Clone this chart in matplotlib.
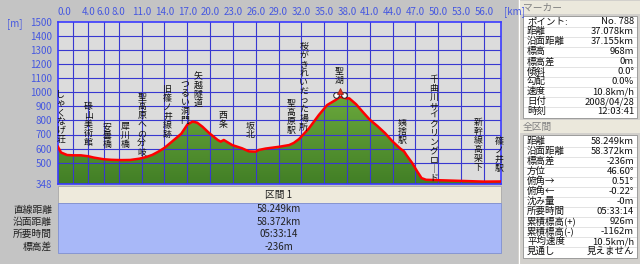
import numpy as np
import matplotlib
matplotlib.use('Agg')
import matplotlib.pyplot as plt
import matplotlib.transforms as mtransforms
from matplotlib.patches import Rectangle, Polygon
from matplotlib.colors import LinearSegmentedColormap

plt.rcParams['font.family'] = ['Noto Sans CJK JP', 'DejaVu Sans']

# elevation profile
dist_km = [0.0, 0.4, 1.2, 2.0, 3.0, 4.0, 4.7, 6.0, 7.0, 8.3, 9.5, 10.7, 11.6, 12.4,
           13.2, 14.0, 15.0, 16.2, 17.0, 17.7, 18.3, 19.0, 19.9, 21.0, 21.4, 21.8,
           22.9, 24.2, 25.1, 26.0, 26.4, 27.3, 29.1, 30.4, 31.0, 31.7, 33.0, 34.3,
           35.4, 36.5, 37.1, 37.9, 38.3, 39.2, 40.0, 41.0, 42.0, 43.0, 44.0, 45.0,
           45.5, 45.8, 46.6, 47.2, 47.8, 48.4, 50.0, 53.0, 56.0, 58.249]
elev_m = [612, 572, 554, 552, 552, 545, 536, 524, 520, 518, 519, 528, 540, 555,
          578, 605, 650, 705, 770, 792, 784, 755, 709, 661, 649, 661,
          625, 602, 580, 578, 590, 600, 613, 625, 640, 668, 744, 839,
          910, 945, 968, 957, 957, 915, 865, 805, 760, 710, 650, 600,
          580, 555, 495, 440, 390, 378, 375, 370, 365, 366]

total_km = 58.249
elev_min, elev_max = 348, 1500

x_ticks = [0, 2, 4, 6, 8, 11, 14, 17, 20, 23, 26, 29, 32, 35, 38, 41, 44, 47, 50, 53, 56]
x_tick_labels = ['0.0', ''] + ['%.1f' % t for t in x_ticks[2:]]
y_ticks = [348, 500, 600, 700, 800, 900, 1000, 1100, 1200, 1300, 1400, 1500]

# waypoints: name, distance, top of the vertical label (m)
waypoint_names = ['しゃくなげ荘', '碌山美術館', '安曇橋', '犀川橋', '聖高原への分岐',
                  '旧篠ノ井線跡', 'つるい洞門', '矢越隧道', '西条', '坂北', '聖高原駅',
                  '桜がきれいだった場所', '聖湖', '姨捨駅', '千曲川サイクリングロード',
                  '新幹線高架下', '篠ノ井駅']
waypoint_km = [0.36, 4.0, 6.5, 8.8, 11.0, 14.4, 16.7, 18.4, 21.7, 25.2, 30.6,
               32.3, 36.9, 45.2, 49.4, 55.2, 58.0]
label_top = [1016, 931, 789, 789, 995, 1052, 1088, 1144, 867, 796, 952,
             1358, 1180, 817, 1123, 817, 682]

marker_km = 37.078
marker_elev = 968

summary_labels = ['直線距離', '沿面距離', '所要時間', '標高差']
summary_values = ['58.249km', '58.372km', '05:33:14', '-236m']

marker_labels = ['ポイント:', '距離', '沿面距離', '標高', '標高差', '傾斜', '勾配', '速度', '日付', '時刻']
marker_values = ['No. 788', '37.078km', '37.155km', '968m', '0m', '0.0°', '0.0%',
                 '10.8km/h', '2008/04/28', '12:03:41']
total_labels = ['距離', '沿面距離', '標高差', '方位', '俯角→', '俯角←', '沈み量', '所要時間',
                '累積標高(+)', '累積標高(-)', '平均速度', '見通し']
total_values = ['58.249km', '58.372km', '-236m', '46.60°', '0.51°', '-0.22°', '-0m',
                '05:33:14', '926m', '-1162m', '10.5km/h', '見えません']

W, H = 640, 264
fig = plt.figure(figsize=(6.4, 2.64), dpi=100, facecolor='#c4c4c4')


def box(x0, y0, x1, y1):
    return [x0 / W, 1 - y1 / H, (x1 - x0) / W, (y1 - y0) / H]


def rect(x0, y0, x1, y1, fc, ec='none', lw=0.6):
    fig.patches.append(Rectangle((x0 / W, 1 - y1 / H), (x1 - x0) / W, (y1 - y0) / H,
                                 transform=fig.transFigure, facecolor=fc,
                                 edgecolor=ec, linewidth=lw))


def ftext(x, y, s, **kw):
    fig.text(x / W, 1 - y / H, s, **kw)


blue_txt = '#4658e0'

# --- profile chart
ax = fig.add_axes(box(58, 22, 501, 184))
ax.set_facecolor('#dcdcdc')

grad = np.linspace(0, 1, 256).reshape(-1, 1)
greens = LinearSegmentedColormap.from_list('greens', ['#427f26', '#6aa83c'])
im = ax.imshow(grad, extent=[0, total_km, elev_min, max(elev_m)], origin='lower',
               aspect='auto', cmap=greens, zorder=1)
verts = [(0, elev_min)] + list(zip(dist_km, elev_m)) + [(total_km, elev_min)]
ground = Polygon(verts, closed=True, facecolor='none', edgecolor='none')
ax.add_patch(ground)
im.set_clip_path(ground)

for t in x_ticks[1:]:
    ax.axvline(t, color='#3838d0', lw=0.8, zorder=2)
for t in y_ticks[1:-1]:
    ax.axhline(t, color='#3838d0', lw=0.8, zorder=2)

ax.plot(dist_km, elev_m, color='#ff0000', lw=1.8, zorder=3)

ax.set_xlim(0, total_km)
ax.set_ylim(elev_min, elev_max)
for sp in ax.spines.values():
    sp.set_color('#3a3aff')
    sp.set_linewidth(1.2)

ax.xaxis.tick_top()
ax.set_xticks(x_ticks)
ax.set_xticklabels(x_tick_labels)
ax.get_xticklabels()[0].set_horizontalalignment('left')
ax.set_yticks(y_ticks)
ax.tick_params(length=0, labelsize=7, labelcolor=blue_txt)
ax.tick_params(axis='x', pad=3.5)
ax.tick_params(axis='y', pad=4.5)

ftext(7, 24, '[m]', fontsize=7, color=blue_txt, va='center')
ftext(504, 12, '[km]', fontsize=7, color=blue_txt, va='center')

for name, km, top in zip(waypoint_names, waypoint_km, label_top):
    vert = '\n'.join(name.replace('ー', '｜'))
    ax.text(km, top, vert, ha='center', va='top', fontsize=6.4, linespacing=1.0,
            color='#101010', zorder=5, clip_on=False)

# bicycle icon at the current marker
px = 72 / fig.dpi
for dx in (-4, 4):
    tr = mtransforms.offset_copy(ax.transData, fig=fig, x=dx * px, y=2 * px, units='points')
    ax.plot([marker_km], [marker_elev], 'o', ms=4, mfc='white', mec='#202020',
            mew=0.7, transform=tr, zorder=6, clip_on=False)
tr = mtransforms.offset_copy(ax.transData, fig=fig, x=0, y=6 * px, units='points')
ax.plot([marker_km], [marker_elev], '^', ms=5, mfc='#e03020', mec='#a02010',
        mew=0.5, transform=tr, zorder=7, clip_on=False)

# --- section summary below the chart
rect(58, 186, 501, 203, '#eeeadc', '#a8a8a8')
ftext(279, 195, '区間 1', fontsize=7, ha='center', va='center', color='#202020')
rect(58, 203, 501, 253, '#a8b8f8', '#8090d0')
for i, (lab, val) in enumerate(zip(summary_labels, summary_values)):
    y = 209.5 + i * 12.4
    ftext(52, y, lab, fontsize=7, ha='right', va='center', color='#202020')
    ftext(279, y, val, fontsize=7, ha='center', va='center', color='#202020')

# --- right information panel
rect(518, 0, 640, 264, '#d2d0cc')
fig.lines.append(plt.Line2D([519 / W, 519 / W], [0, 1], transform=fig.transFigure,
                            color='white', lw=0.8))


def info_table(title, y_head, labels, values, y_first, pitch):
    rect(520, y_head, 640, y_head + 13, '#ebe8dc')
    ftext(523, y_head + 6.5, title, fontsize=7, color='#808080', va='center')
    top = y_head + 15
    bottom = y_first + pitch * (len(labels) - 1) + pitch / 2 + 1
    rect(523, top, 637, bottom, 'white', '#909090')
    for i, (lab, val) in enumerate(zip(labels, values)):
        y = y_first + i * pitch
        ftext(527, y, lab, fontsize=6.8, va='center', color='#101010')
        ftext(634, y, val, fontsize=6.8, va='center', ha='right', color='#101010')
        if i < len(labels) - 1:
            yl = 1 - (y + pitch / 2) / H
            fig.lines.append(plt.Line2D([524 / W, 636 / W], [yl, yl],
                                        transform=fig.transFigure,
                                        color='#d8d8d8', lw=0.5))


info_table('マーカー', 1, marker_labels, marker_values, 21.8, 10.0)
info_table('全区間', 120, total_labels, total_values, 141.5, 10.0)

fig.savefig('out.png', dpi=100, facecolor=fig.get_facecolor())
